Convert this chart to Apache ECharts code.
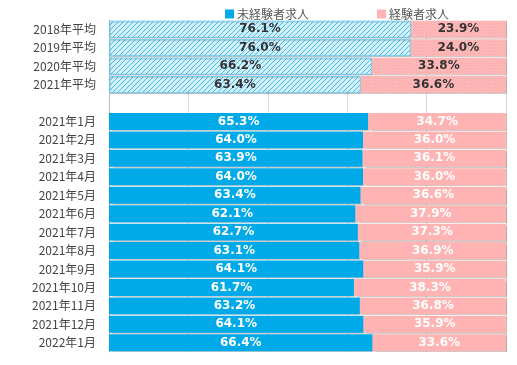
<!DOCTYPE html>
<html><head><meta charset="utf-8">
<script src="https://cdn.jsdelivr.net/npm/echarts@6/dist/echarts.min.js"></script>
<style>html,body{margin:0;padding:0;background:#fff}#c{width:517px;height:365px}</style>
</head><body><div id="c"></div>
<script>
const categories = ['2018年平均','2019年平均','2020年平均','2021年平均','','2021年1月','2021年2月','2021年3月','2021年4月','2021年5月','2021年6月','2021年7月','2021年8月','2021年9月','2021年10月','2021年11月','2021年12月','2022年1月'];
const inexperienced = [76.1,76.0,66.2,63.4,null,65.3,64.0,63.9,64.0,63.4,62.1,62.7,63.1,64.1,61.7,63.2,64.1,66.4];
const experienced = [23.9,24.0,33.8,36.6,null,34.7,36.0,36.1,36.0,36.6,37.9,37.3,36.9,35.9,38.3,36.8,35.9,33.6];
const seriesNames = ['未経験者求人','経験者求人'];
const averageCount = 4;

const BLUE = '#00AAE8', PINK = '#FFB3B3';
function hatch(){
  const c = document.createElement('canvas'); c.width = 5; c.height = 5;
  const g = c.getContext('2d');
  g.fillStyle = '#D2F1FC'; g.fillRect(0,0,5,5);
  g.strokeStyle = '#45BCE8'; g.lineWidth = 1;
  g.beginPath();
  g.moveTo(-1,6); g.lineTo(6,-1);
  g.moveTo(-4,4); g.lineTo(4,-4);
  g.moveTo(1,9); g.lineTo(9,1);
  g.stroke();
  return c;
}
function dots(){
  const c = document.createElement('canvas'); c.width = 3; c.height = 3;
  const g = c.getContext('2d');
  g.fillStyle = '#FFB8B8'; g.fillRect(0,0,3,3);
  g.fillStyle = '#F5ABAB'; g.fillRect(0,0,1,1); g.fillRect(2,2,1,1);
  return c;
}
const hatchPat = {image: hatch(), repeat: 'repeat'};
const dotPat = {image: dots(), repeat: 'repeat'};

function build(vals, idx){
  return vals.map((v,i) => {
    if (v == null) return '-';
    const avg = i < averageCount;
    const item = {value: v, label: {color: avg ? '#333' : '#fff'}};
    if (avg) {
      item.itemStyle = idx === 0
        ? {color: hatchPat, borderColor: '#5CC4EA', borderWidth: 0.8}
        : {color: dotPat};
    }
    return item;
  });
}
const labelBase = {show: true, position: 'inside', fontFamily: 'DejaVu Sans', fontWeight: 'bold', fontSize: 12,
  formatter: p => p.value.toFixed(1) + '%'};
const shadow = {shadowColor: 'rgba(0,0,0,0.2)', shadowOffsetX: 1, shadowOffsetY: 1, shadowBlur: 1};

const chart = echarts.init(document.getElementById('c'));
chart.setOption({
  animation: false,
  legend: {top: 3, left: 220, itemWidth: 9, itemHeight: 9, itemGap: 68, icon: 'rect',
    textStyle: {fontFamily: 'Noto Sans CJK JP', fontSize: 12, color: '#555', padding: [0,0,0,-2]},
    data: seriesNames},
  grid: {left: 109, right: 11, top: 20, bottom: 13},
  xAxis: {type: 'value', min: 0, max: 100, interval: 20,
    axisLabel: {show: false}, axisLine: {show: false}, axisTick: {show: false},
    splitLine: {lineStyle: {color: '#D9D9D9'}}},
  yAxis: {type: 'category', inverse: true, data: categories,
    axisLine: {lineStyle: {color: '#BFBFBF'}}, axisTick: {show: false},
    axisLabel: {fontFamily: 'Noto Sans CJK JP', fontSize: 12, color: '#444', margin: 13}},
  series: [
    {name: seriesNames[0], type: 'bar', stack: 't', barCategoryGap: '8%', data: build(inexperienced,0),
     itemStyle: Object.assign({color: BLUE}, shadow), label: labelBase},
    {name: seriesNames[1], type: 'bar', stack: 't', barCategoryGap: '8%', data: build(experienced,1),
     itemStyle: Object.assign({color: PINK}, shadow), label: labelBase}
  ]
});
</script></body></html>
